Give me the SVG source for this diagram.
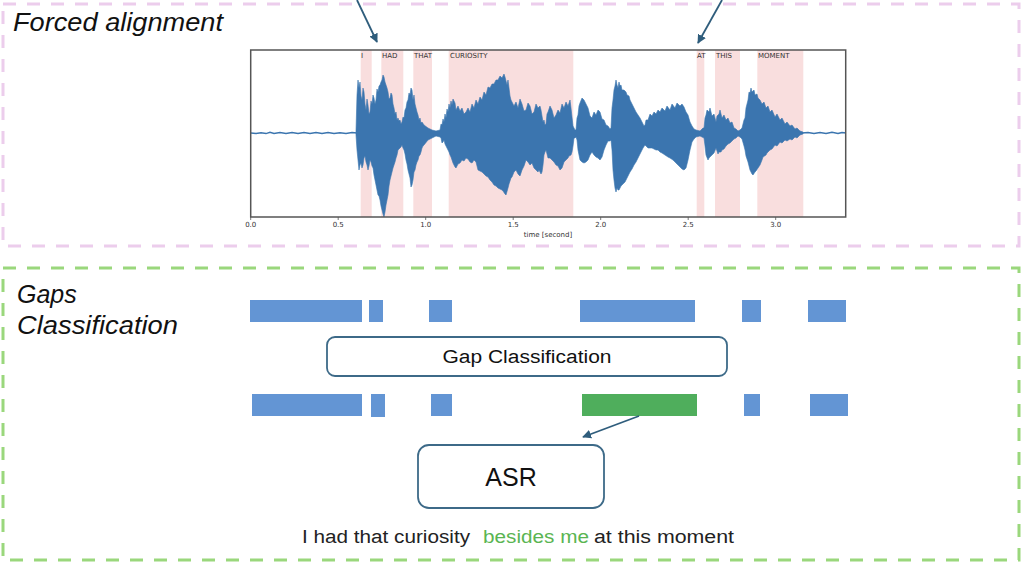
<svg xmlns="http://www.w3.org/2000/svg" width="1024" height="566" viewBox="0 0 1024 566">
<defs>
<style>
.frame{fill:none;stroke-width:3;stroke-dasharray:13 11}
.title{font-family:"Liberation Sans",Arial,sans-serif;font-style:italic;font-size:25px;fill:#111}
.span{fill:#f9dede}
.wl{font-family:"DejaVu Sans",sans-serif;font-size:7px;fill:#333}
.tick{font-family:"DejaVu Sans",sans-serif;font-size:7px;fill:#333;text-anchor:middle}
.bar{fill:#6395d4}
.box{fill:#fff;stroke:#3d6a88;stroke-width:1.8}
.lbl{font-family:"Liberation Sans",Arial,sans-serif;fill:#111;text-anchor:middle}
.conn{stroke:#2f5d7c;stroke-width:1.8;fill:none}
.sent{font-family:"Liberation Sans",Arial,sans-serif;font-size:18px;fill:#222}
</style>
<marker id="ah" viewBox="0 0 10 10" refX="9" refY="5" markerWidth="5" markerHeight="5" orient="auto-start-reverse">
<path d="M0,0 L10,5 L0,10 z" fill="#2f5d7c"/>
</marker>
</defs>
<rect width="1024" height="566" fill="#fff"/>

<g id="forced-alignment-frame">
<rect class="frame" x="3" y="4" width="1016" height="242" stroke="#eccdec"/>
<text class="title" x="13" y="31" textLength="210" lengthAdjust="spacingAndGlyphs">Forced alignment</text>
</g>

<g id="gaps-frame">
<rect class="frame" x="3" y="268" width="1016" height="292" stroke="#9ad77c"/>
<text class="title" x="17" y="303">Gaps</text>
<text class="title" x="17" y="334" textLength="161" lengthAdjust="spacingAndGlyphs">Classification</text>
</g>

<g id="waveform-plot">
<rect class="span" x="360.7" y="50" width="11" height="167"/>
<rect class="span" x="381.3" y="50" width="22" height="167"/>
<rect class="span" x="413.3" y="50" width="18.7" height="167"/>
<rect class="span" x="448.7" y="50" width="124.6" height="167"/>
<rect class="span" x="696.7" y="50" width="7.6" height="167"/>
<rect class="span" x="715" y="50" width="25" height="167"/>
<rect class="span" x="757.3" y="50" width="46" height="167"/>
<text class="wl" x="361" y="58">I</text>
<text class="wl" x="382" y="58">HAD</text>
<text class="wl" x="414" y="58">THAT</text>
<text class="wl" x="450" y="58">CURIOSITY</text>
<text class="wl" x="697" y="58">AT</text>
<text class="wl" x="716" y="58">THIS</text>
<text class="wl" x="758" y="58">MOMENT</text>
<polyline fill="none" stroke="#3b75af" stroke-width="1.5" points="251,133 256,133.5 261,132.8 266,133.6 270,132.2 274,133.5 280,132.6 286,133.4 292,132.5 298,133.6 304,132.4 310,133.5 316,132.6 322,133.4 328,132.5 334,133.6 340,132.7 346,133.4 352,132.6 357,133"/>
<polyline fill="none" stroke="#3b75af" stroke-width="1.5" points="802,133 808,132.4 814,133.5 820,132.6 826,133.6 832,132.3 838,133.5 842,132.6 846,133"/>
<path fill="#3b75af" stroke="#3b75af" stroke-width="0.6" stroke-linejoin="round" d="M356,131 L357,95 358,80 359,88 360,82 361,96 362,100 363,88 364,92 365,104 366,110 367,99 368,105 369,114 370,112 371,101 372,104 373,95 374,98 375,104 376,100 377,89 378,92 379,86 380,85 381,82 382,80 383,75 384,77 385,82 386,85 387,88 388,92 389,99 390,98 391,93 392,95 393,104 394,108 395,114 396,112 397,120 398,118 399,121 400,120 401,124 402,122 403,117 404,118 405,110 406,108 407,102 408,100 409,93 410,95 411,88 412,90 413,100 414,95 415,104 416,108 417,112 418,115 419,120 420,118 421,123 422,122 424,125 428,128 432,130 436,131 440,130 441,124 442,125 443,119 444,122 445,114 446,118 447,109 448,112 449,104 450,108 451,101 452,105 453,99 455,103 456,110 458,106 460,111 462,108 464,114 466,112 468,108 470,112 472,104 474,108 476,100 478,104 480,97 482,100 484,92 486,95 488,87 490,88 492,84 494,84 496,80 498,80 500,76 502,78 504,74 505,77 507,85 508,80 510,96 511,100 513,104 514,106 516,102 518,108 520,99 522,104 524,111 526,110 528,103 530,106 532,114 534,112 536,104 538,108 540,106 541,110 543,122 544,120 545,125 546,124 547,114 548,112 550,106 552,110 554,118 556,115 558,110 560,113 562,104 564,108 566,102 568,106 570,100 571,108 573,126 574,128 575,130 576,130 577,118 578,115 579,106 580,103 582,98 584,100 586,104 588,108 590,116 592,118 594,112 596,115 598,110 600,112 602,119 604,120 606,125 608,126 610,129 611,128 612,108 613,100 614,90 615,86 616,80 617,85 618,88 619,82 620,86 621,85 622,90 624,90 626,92 627,95 629,96 630,100 632,104 634,108 636,112 638,115 640,118 642,122 644,126 645,125 646,120 648,120 650,114 652,116 654,112 656,114 658,110 660,112 662,108 665,111 667,106 670,110 672,104 675,108 677,103 680,106 682,104 684,107 686,112 688,115 690,122 692,126 694,129 696,130 700,131 703,128 704,128 705,118 706,115 707,110 709,112 710,108 712,116 714,114 716,122 717,116 719,114 720,110 722,118 724,115 726,120 728,118 730,123 732,122 734,128 736,129 738,131 740,130 742,128 744,120 745,118 746,108 748,100 749,92 750,93 751,88 752,92 754,90 755,95 757,94 758,98 760,100 762,104 764,102 766,108 768,106 770,112 772,110 775,117 777,114 780,120 782,118 785,124 787,122 790,126 792,125 795,129 797,128 800,131 803,132 L803,134 800,135 797,138 795,137 792,140 790,139 787,141 785,140 782,143 780,142 777,146 775,145 772,149 770,150 767,153 766,155 763,157 762,160 760,165 758,168 756,171 755,172 753,175 752,174 751,172 750,170 749,166 748,162 746,156 745,150 744,146 742,139 740,137 738,136 736,138 734,139 732,141 730,143 728,144 726,146 724,149 722,150 721,152 719,152 718,154 716,148 714,153 712,155 710,157 709,158 708,160 706,155 705,146 704,138 700,136 696,137 694,139 692,142 690,150 688,160 686,168 684,170 682,169 680,167 678,165 675,162 673,160 670,158 668,157 665,155 662,153 660,152 658,150 656,150 654,149 652,148 650,148 648,148 646,146 645,145 643,148 642,150 640,154 638,158 636,162 634,165 632,169 630,172 628,176 627,178 625,182 624,183 622,185 621,186 619,190 618,190 617,188 616,192 615,188 614,180 613,170 612,150 611,140 610,141 608,141 606,145 604,150 602,157 600,160 598,158 596,157 594,155 592,152 590,155 588,160 586,162 584,163 582,162 580,160 579,155 578,150 577,140 576,137 575,138 574,138 573,146 572,152 571,155 569,156 568,158 566,160 564,162 562,168 560,170 558,166 556,165 554,162 552,160 550,158 548,158 547,154 546,150 545,152 544,155 543,165 542,172 541,174 539,170 538,172 536,170 534,168 532,163 530,165 528,162 526,160 524,166 522,170 520,176 518,174 516,170 514,172 512,177 511,178 509,184 508,188 506,195 505,194 503,191 502,190 500,189 498,188 496,186 494,185 492,182 490,180 488,177 486,176 484,174 482,172 480,171 478,170 476,162 474,160 472,163 470,162 468,159 466,158 464,161 462,160 460,163 458,164 456,168 455,167 453,163 452,160 451,157 450,155 449,152 448,150 447,148 446,146 445,144 444,140 443,142 442,143 441,138 440,137 436,136 432,138 428,140 424,145 423,146 422,148 421,152 420,155 419,156 418,160 417,162 416,165 415,170 414,172 413,180 412,185 411,187 410,178 409,174 408,170 407,164 406,160 405,154 404,150 403,148 402,145 401,147 400,148 399,149 398,150 397,155 396,158 395,162 394,165 393,168 392,172 391,176 390,180 389,186 388,195 387,200 386,205 385,212 384,217 383,214 382,210 381,206 380,200 379,196 378,195 377,190 376,185 375,180 374,175 373,168 372,166 371,162 370,160 369,166 368,170 367,165 366,162 365,156 364,158 363,165 362,168 361,163 360,165 359,170 358,160 357,150 356,135 Z"/>
<rect x="250.7" y="50" width="595" height="167" fill="none" stroke="#555" stroke-width="1.5"/>
<g stroke="#555" stroke-width="0.8">
<line x1="250.7" y1="217" x2="250.7" y2="220"/>
<line x1="338.2" y1="217" x2="338.2" y2="220"/>
<line x1="425.7" y1="217" x2="425.7" y2="220"/>
<line x1="513.2" y1="217" x2="513.2" y2="220"/>
<line x1="600.7" y1="217" x2="600.7" y2="220"/>
<line x1="688.2" y1="217" x2="688.2" y2="220"/>
<line x1="775.7" y1="217" x2="775.7" y2="220"/>
</g>
<text class="tick" x="250.7" y="227">0.0</text>
<text class="tick" x="338.2" y="227">0.5</text>
<text class="tick" x="425.7" y="227">1.0</text>
<text class="tick" x="513.2" y="227">1.5</text>
<text class="tick" x="600.7" y="227">2.0</text>
<text class="tick" x="688.2" y="227">2.5</text>
<text class="tick" x="775.7" y="227">3.0</text>
<text class="tick" x="548" y="237">time [second]</text>
</g>

<g id="segments-before">
<rect class="bar" x="250" y="300" width="112" height="22"/>
<rect class="bar" x="369" y="300" width="14" height="22"/>
<rect class="bar" x="429" y="300" width="23" height="22"/>
<rect class="bar" x="580" y="300" width="115" height="22"/>
<rect class="bar" x="742" y="300" width="19" height="22"/>
<rect class="bar" x="808" y="300" width="38" height="22"/>
</g>

<g id="gap-classification">
<rect class="box" x="327" y="337" width="400" height="39" rx="8"/>
<text class="lbl" x="527" y="363" font-size="18" textLength="169" lengthAdjust="spacingAndGlyphs">Gap Classification</text>
</g>

<g id="segments-after">
<rect class="bar" x="252" y="394" width="110" height="22"/>
<rect class="bar" x="371" y="394" width="14" height="23"/>
<rect class="bar" x="431" y="394" width="21" height="22"/>
<rect x="582" y="394" width="115" height="22" fill="#4fae5c"/>
<rect class="bar" x="744" y="394" width="16" height="22"/>
<rect class="bar" x="810" y="394" width="38" height="22"/>
</g>

<g id="asr">
<rect class="box" x="418" y="445" width="186" height="63" rx="11"/>
<text class="lbl" x="511" y="486" font-size="25">ASR</text>
</g>

<g id="output-sentence">
<text class="sent" y="543"><tspan x="302" textLength="168" lengthAdjust="spacingAndGlyphs">I had that curiosity</tspan><tspan x="483" fill="#5ab552" textLength="106" lengthAdjust="spacingAndGlyphs">besides me</tspan><tspan x="594" textLength="140" lengthAdjust="spacingAndGlyphs">at this moment</tspan></text>
</g>

<g id="connectors">
<line class="conn" x1="357" y1="0" x2="377" y2="42" marker-end="url(#ah)"/>
<line class="conn" x1="722" y1="0" x2="698" y2="43" marker-end="url(#ah)"/>
<line class="conn" x1="639" y1="416" x2="583" y2="437" marker-end="url(#ah)"/>
</g>
</svg>
